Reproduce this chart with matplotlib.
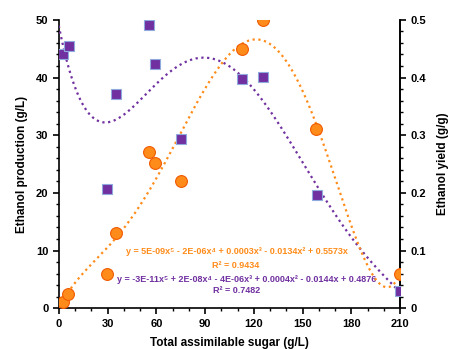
import numpy as np
import matplotlib.pyplot as plt
from matplotlib.ticker import MultipleLocator

plt.rcParams['font.family'] = ['Liberation Sans', 'DejaVu Sans']
plt.rcParams['font.weight'] = 'bold'

# ethanol production (g/L), left axis
sugar_prod = [2.5, 5.5, 29.4, 35.3, 55.4, 59.0, 75.0, 113.0, 125.6, 158.0, 210.0]
production = [1.1, 2.5, 6.0, 13.0, 27.1, 25.1, 22.0, 45.0, 50.0, 31.0, 6.0]

# ethanol yield (g/g), right axis
sugar_yield = [2.5, 6.0, 29.4, 35.0, 55.4, 59.0, 75.0, 113.0, 125.6, 159.0, 210.0]
yield_gg = [0.441, 0.455, 0.207, 0.372, 0.491, 0.424, 0.294, 0.398, 0.401, 0.196, 0.029]

orange = '#FF8C1A'
purple = '#7030A0'

fig = plt.figure(figsize=(4.49, 3.49), dpi=100)
ax = fig.add_axes([0.131, 0.117, 0.76, 0.826])
ax2 = ax.twinx()

# 5th order trend lines (production forced through origin)
xs = np.linspace(0, 210, 400)
xp = np.array(sugar_prod)
A = np.vstack([xp ** k for k in range(5, 0, -1)]).T
cp = np.linalg.lstsq(A, np.array(production), rcond=None)[0]
yp = np.vstack([xs ** k for k in range(5, 0, -1)]).T @ cp
cy = np.polyfit(sugar_yield, yield_gg, 5)
yy = np.polyval(cy, xs)

ax2.plot(xs, yy, ls=(0, (1, 1.6)), color=purple, lw=1.6, zorder=1)
ax2.plot(sugar_yield, yield_gg, 's', ms=7.5, color=purple, mec='#8FAADC', mew=0.8, zorder=3)
ax2.plot(xs, yp / 100, ls=(0, (1, 1.6)), color=orange, lw=1.6, zorder=2)
ax2.plot(sugar_prod, np.array(production) / 100, 'o', ms=8.5, color=orange,
         mec='#F05A00', mew=0.8, zorder=4)

ax.set_xlim(0, 210)
ax.set_ylim(0, 50)
ax2.set_ylim(0, 0.5)
ax.xaxis.set_major_locator(MultipleLocator(30))
ax.xaxis.set_minor_locator(MultipleLocator(10))
ax.yaxis.set_major_locator(MultipleLocator(10))
ax.yaxis.set_minor_locator(MultipleLocator(2))
ax2.yaxis.set_minor_locator(MultipleLocator(0.02))
ax2.set_yticks([0, 0.1, 0.2, 0.3, 0.4, 0.5])
ax2.set_yticklabels(['0', '0.1', '0.2', '0.3', '0.4', '0.5'])

for a in (ax, ax2):
    a.spines['top'].set_visible(False)
    for s in a.spines.values():
        s.set_linewidth(1.2)
    a.tick_params(which='major', length=4, width=1.2, labelsize=8)
    a.tick_params(which='minor', length=2.5, width=1)
ax2.spines['bottom'].set_visible(False)
ax2.spines['left'].set_visible(False)

ax.set_xlabel('Total assimilable sugar (g/L)', fontsize=8.5, fontweight='bold', labelpad=6)
ax.set_ylabel('Ethanol production (g/L)', fontsize=8.5, fontweight='bold', labelpad=6)
ax2.set_ylabel('Ethanol yield (g/g)', fontsize=8.5, fontweight='bold', labelpad=8)

eq_kw = dict(transform=ax.transAxes, ha='center', va='center', fontsize=6.5, fontweight='bold')
ax.text(0.522, 0.195, 'y = 5E-09x⁵ - 2E-06x⁴ + 0.0003x³ - 0.0134x² + 0.5573x', color=orange, **eq_kw)
ax.text(0.519, 0.147, 'R² = 0.9434', color=orange, **eq_kw)
ax.text(0.552, 0.098, 'y = -3E-11x⁵ + 2E-08x⁴ - 4E-06x³ + 0.0004x² - 0.0144x + 0.4876', color=purple, **eq_kw)
ax.text(0.521, 0.062, 'R² = 0.7482', color=purple, **eq_kw)

fig.savefig('out.png', dpi=100)
